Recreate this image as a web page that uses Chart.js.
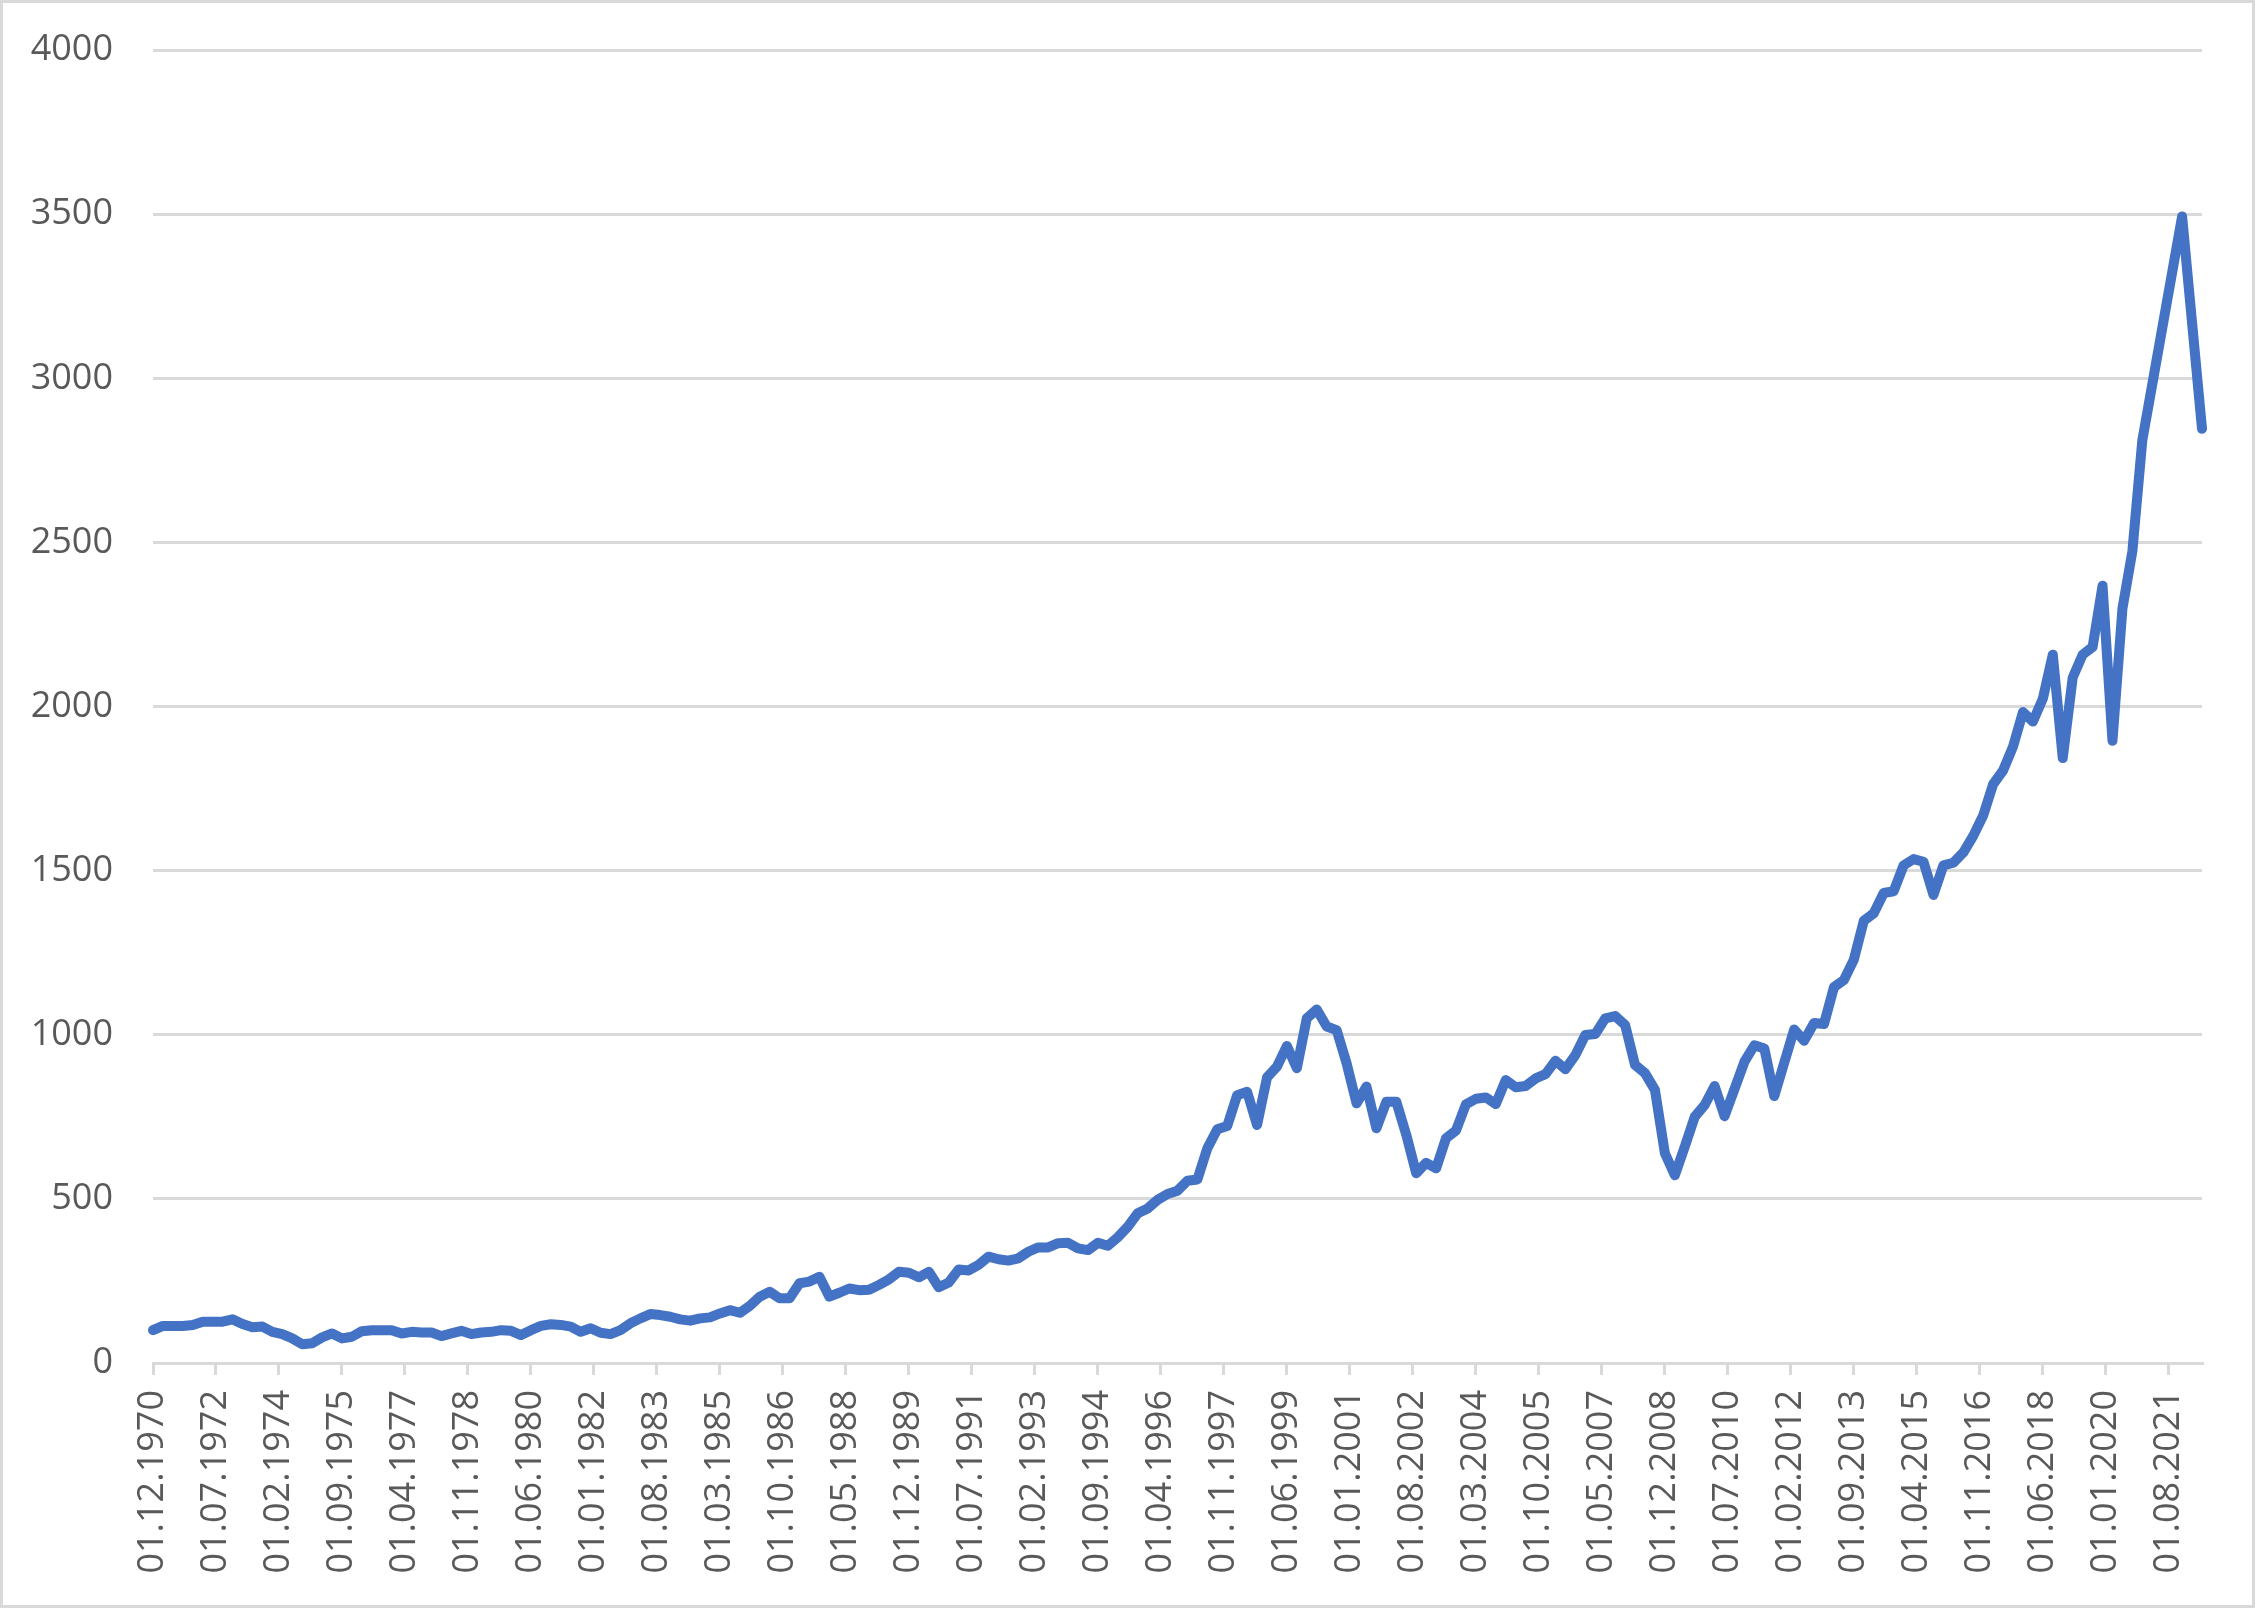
<!DOCTYPE html>
<html>
<head>
<meta charset="utf-8">
<title>Index 1970–2022</title>
<script src="https://cdn.jsdelivr.net/npm/chart.js@4.4.1/dist/chart.umd.min.js"></script>
<style>
  html, body { margin: 0; padding: 0; background: #fff; }
  #wrap  { position: relative; width: 2255px; height: 1608px; }
  #frame { position: absolute; inset: 0; border: 3px solid #d9d9d9; box-sizing: border-box; pointer-events: none; }
</style>
</head>
<body>
<div id="wrap">
  <canvas id="lineChart" width="2255" height="1608"></canvas>
  <div id="frame"></div>
</div>
<script>
/* ── DATA ───────────────────────────────────────────────── */
// quarterly observations, first one on 01.12.1970
const START_DATE  = "01.12.1970";
const STEP_MONTHS = 3;

// axis labels (Excel date axis, one every 19 months)
const tickLabels = [
  "01.12.1970", "01.07.1972", "01.02.1974", "01.09.1975", "01.04.1977",
  "01.11.1978", "01.06.1980", "01.01.1982", "01.08.1983", "01.03.1985",
  "01.10.1986", "01.05.1988", "01.12.1989", "01.07.1991", "01.02.1993",
  "01.09.1994", "01.04.1996", "01.11.1997", "01.06.1999", "01.01.2001",
  "01.08.2002", "01.03.2004", "01.10.2005", "01.05.2007", "01.12.2008",
  "01.07.2010", "01.02.2012", "01.09.2013", "01.04.2015", "01.11.2016",
  "01.06.2018", "01.01.2020", "01.08.2021"
];

// index level per quarter (null = no observation, line is bridged)
const indexValues = [
  100, 113, 113, 113, 116, 126, 126, 126, 133, 119,   // 1970–1973
  109, 111,  95,  88,  75,  57,  60,  78,  90,  75,
   80,  97, 100, 100, 100,  90,  95,  93,  93,  82,
   90,  98,  88,  93,  95, 100,  98,  85, 100, 113,
  118, 116, 111,  95, 106,  92,  88, 100, 121, 136,   // 1980–1983
  149, 146, 141, 133, 129, 136, 139, 151, 161, 153,
  174, 202, 217, 197, 197, 243, 248, 263, 202, 214,
  227, 222, 223, 238, 255, 278, 275, 261, 278, 231,
  245, 285, 282, 299, 324, 316, 312, 319, 339, 352,   // 1990–1993
  352, 365, 366, 349, 344, 366, 357, 383, 415, 456,
  471, 497, 515, 525, 555, 559, 654, 712, 722, 816,
  826, 725, 870, 903, 966, 898, 1050, 1077, 1025, 1014,
  913, 791, 842, 715, 796, 796, 695, 578, 610, 593,   // 2000–2003
  685, 708, 788, 805, 809, 789, 862, 840, 844, 867,
  880, 921, 895, 938, 999, 1002, 1050, 1057, 1030, 908,
  883, 832, 639, 572, 659, 750, 786, 844, 752, 835,
  918, 968, 958, 813, 915, 1016, 982, 1036, 1033, 1145, // 2010–2013
  1167, 1229, 1347, 1370, 1432, 1437, 1516, 1535, 1527, 1426,
  1516, 1524, 1555, 1606, 1668, 1763, 1805, 1878, 1983, 1954,
  2024, 2158, 1843, 2088, 2158, 2181, 2368, 1896, 2298, 2473,
  2811, null, null, null, 3493, null, 2846                // 2020–2022
];

/* ── HELPERS ────────────────────────────────────────────── */
function monthsFromStart(label) {
  const [, m, y]   = label.split(".").map(Number);
  const [, m0, y0] = START_DATE.split(".").map(Number);
  return (y - y0) * 12 + (m - m0);
}

const tickMonths = tickLabels.map(monthsFromStart);
const points     = indexValues.map((v, i) => ({ x: i * STEP_MONTHS, y: v }));
const lastMonth  = (indexValues.length - 1) * STEP_MONTHS;

const AXIS_FONT  = { family: "'Open Sans', 'Liberation Sans', sans-serif", size: 36 };
const TEXT_COLOR = "#595959";
const GRID_COLOR = "#d9d9d9";

/* ── CHART ──────────────────────────────────────────────── */
const ctx = document.getElementById("lineChart").getContext("2d");

new Chart(ctx, {
  type: "line",
  data: {
    datasets: [{
      data: points,
      borderColor: "#4472C4",
      borderWidth: 10,
      borderJoinStyle: "round",
      borderCapStyle: "round",
      pointRadius: 0,
      tension: 0,
      spanGaps: true,
      fill: false,
      clip: 12
    }]
  },
  options: {
    responsive: false,
    animation: false,
    layout: { padding: { left: 0, top: 50, right: 53, bottom: 0 } },
    plugins: {
      legend:  { display: false },
      tooltip: { enabled: false }
    },
    scales: {
      x: {
        type: "linear",
        min: 0,
        max: lastMonth,
        afterBuildTicks: axis => { axis.ticks = tickMonths.map(v => ({ value: v })); },
        afterFit: axis => { axis.height = 245; axis.paddingLeft = 0; axis.paddingRight = 0; },
        grid:   { drawOnChartArea: false, drawTicks: true, tickLength: 12, color: GRID_COLOR, lineWidth: 3 },
        border: { display: true, color: GRID_COLOR, width: 3 },
        ticks: {
          autoSkip: false,
          minRotation: 90,
          maxRotation: 90,
          padding: 15,
          color: TEXT_COLOR,
          font: AXIS_FONT,
          callback: (value, i) => tickLabels[i]
        }
      },
      y: {
        min: 0,
        max: 4000,
        afterFit: axis => { axis.width = 153; axis.paddingTop = 0; axis.paddingBottom = 0; },
        grid:   { color: GRID_COLOR, lineWidth: 3, drawTicks: false },
        border: { display: false },
        ticks:  {
          stepSize: 500,
          padding: 40,
          color: TEXT_COLOR,
          font: AXIS_FONT,
          callback: value => String(value)
        }
      }
    }
  }
});
</script>
</body>
</html>
